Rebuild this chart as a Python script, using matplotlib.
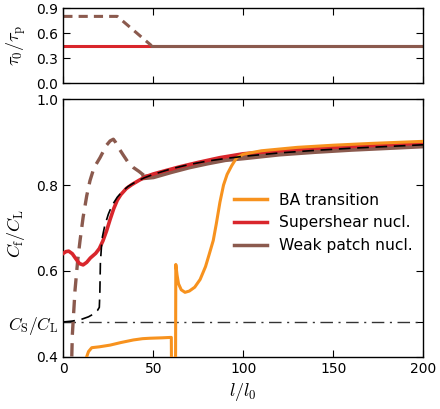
import matplotlib
matplotlib.use("Agg")
import matplotlib.pyplot as plt
import numpy as np

plt.rcParams['mathtext.fontset'] = 'cm'
plt.rcParams['font.family'] = ['DejaVu Sans']

# ---- data ----
# top panel: tau0/taup
top_red_x = [0, 200]
top_red_y = [0.45, 0.45]
top_brown_dash_x = [0, 30, 49]
top_brown_dash_y = [0.80, 0.80, 0.45]
top_brown_x = [49, 200]
top_brown_y = [0.45, 0.45]

# bottom panel
cs_cl = 0.48

theory_x = [0, 5, 10, 14, 17, 19, 20, 20.3, 20.6, 21.5, 23, 25, 27, 30, 33, 36, 40, 45, 50, 60, 70, 80, 90, 100, 120, 140, 160, 180, 200]
theory_y = [0.481, 0.483, 0.487, 0.493, 0.500, 0.508, 0.515, 0.55, 0.62, 0.675, 0.705, 0.732, 0.752, 0.772, 0.786, 0.797, 0.807, 0.817, 0.825, 0.838, 0.848, 0.856, 0.862, 0.867, 0.875, 0.881, 0.886, 0.890, 0.894]

red_x = [0, 1.5, 3, 5, 7, 9, 11, 13, 15, 18, 20, 22, 24, 26, 28, 30, 32, 35, 38, 42, 46, 50, 57, 65, 75, 87, 100, 120, 140, 160, 180, 200]
red_y = [0.641, 0.645, 0.646, 0.640, 0.628, 0.617, 0.614, 0.620, 0.630, 0.641, 0.652, 0.670, 0.693, 0.720, 0.745, 0.765, 0.778, 0.792, 0.801, 0.811, 0.820, 0.826, 0.834, 0.843, 0.853, 0.864, 0.873, 0.880, 0.886, 0.890, 0.894, 0.898]

brown_dash_x = [4.4, 5, 6.5, 8, 9.3, 11, 13, 14.8, 17, 20.4, 24, 26, 27.8, 29, 31, 33.3, 36, 38.9, 42, 45]
brown_dash_y = [0.35, 0.45, 0.555, 0.625, 0.671, 0.725, 0.775, 0.81, 0.84, 0.864, 0.893, 0.903, 0.907, 0.900, 0.885, 0.870, 0.853, 0.841, 0.832, 0.822]
brown_x = [45, 50, 60, 70, 80, 90, 100, 120, 140, 160, 180, 200]
brown_y = [0.818, 0.820, 0.832, 0.843, 0.852, 0.860, 0.864, 0.873, 0.879, 0.884, 0.888, 0.892]

orange_x = [13, 14, 15.8, 20, 26, 32, 38.9, 44, 48, 55, 60.0, 60.2, 62.3, 62.5, 63.2, 64, 65.5, 67.6, 70, 73, 76, 79, 81, 83.3, 85, 87, 89, 91, 93.5, 96.3, 100, 110, 120, 130, 150, 170, 200]
orange_y = [0.400, 0.412, 0.421, 0.423, 0.427, 0.433, 0.439, 0.442, 0.443, 0.444, 0.445, 0.30, 0.30, 0.615, 0.590, 0.570, 0.556, 0.550, 0.553, 0.562, 0.580, 0.610, 0.638, 0.671, 0.710, 0.760, 0.800, 0.825, 0.845, 0.864, 0.872, 0.880, 0.884, 0.888, 0.893, 0.897, 0.902]

orange = '#f7921e'
red = '#d9262c'
brown = '#8b5a4e'

fig = plt.figure(figsize=(4.40, 4.09), dpi=100)
ax1 = fig.add_axes([0.1439, 0.7963, 0.8182, 0.1841])
ax2 = fig.add_axes([0.1439, 0.1279, 0.8182, 0.6293])

for ax in (ax1, ax2):
    ax.tick_params(direction='in', top=True, right=True, labelsize=10, length=5, width=0.8)
    for s in ax.spines.values():
        s.set_linewidth(1.0)

# top
ax1.plot(top_red_x, top_red_y, color=red, lw=2.2)
ax1.plot(top_brown_dash_x, top_brown_dash_y, color=brown, lw=2.2, ls=(0, (3, 2)))
ax1.plot(top_brown_x, top_brown_y, color=brown, lw=2.2)
ax1.set_xlim(0, 200)
ax1.set_ylim(0, 0.9)
ax1.set_yticks([0.0, 0.3, 0.6, 0.9])
ax1.set_xticks([0, 50, 100, 150, 200])
ax1.set_xticklabels([])
ax1.set_ylabel(r'$\tau_0/\tau_\mathrm{p}$', fontsize=13)
ax1.yaxis.set_label_coords(-0.098, 0.5)

# bottom
ax2.axhline(cs_cl, color='#333333', lw=1.0, ls=(0, (9, 4, 1.5, 4)))
ax2.plot(brown_x, brown_y, color=brown, lw=4.0, label='Weak patch nucl.', zorder=2)
ax2.plot(red_x, red_y, color=red, lw=2.6, label='Supershear nucl.', zorder=3)
ax2.plot(orange_x, orange_y, color=orange, lw=2.2, label='BA transition', zorder=4)
ax2.plot(brown_dash_x, brown_dash_y, color=brown, lw=2.4, ls=(0, (4, 2.5)), zorder=2)
ax2.plot(theory_x, theory_y, color='black', lw=1.2, ls=(0, (7, 4)), zorder=5)

ax2.set_xlim(0, 200)
ax2.set_ylim(0.4, 1.0)
ax2.set_xticks([0, 50, 100, 150, 200])
ax2.set_yticks([0.4, cs_cl, 0.6, 0.8, 1.0])
ax2.set_yticklabels(['0.4', r'$C_\mathrm{S}/C_\mathrm{L}$', '0.6', '0.8', '1.0'])
for lab in ax2.get_yticklabels():
    if lab.get_text().startswith('$'):
        lab.set_fontsize(12.5)
ax2.set_xlabel(r'$l/l_0$', fontsize=13)
ax2.set_ylabel(r'$C_\mathrm{f}/C_\mathrm{L}$', fontsize=13)
ax2.yaxis.set_label_coords(-0.1, 0.48)

h, l = ax2.get_legend_handles_labels()
order = [2, 1, 0]
leg = ax2.legend([h[i] for i in order], [l[i] for i in order], frameon=False,
                 loc='center right', bbox_to_anchor=(1.01, 0.52), fontsize=11.2,
                 handlelength=2.1, handletextpad=0.8, labelspacing=0.5)
for line in leg.get_lines():
    line.set_linewidth(2.5)

fig.savefig('out.png', dpi=100)
